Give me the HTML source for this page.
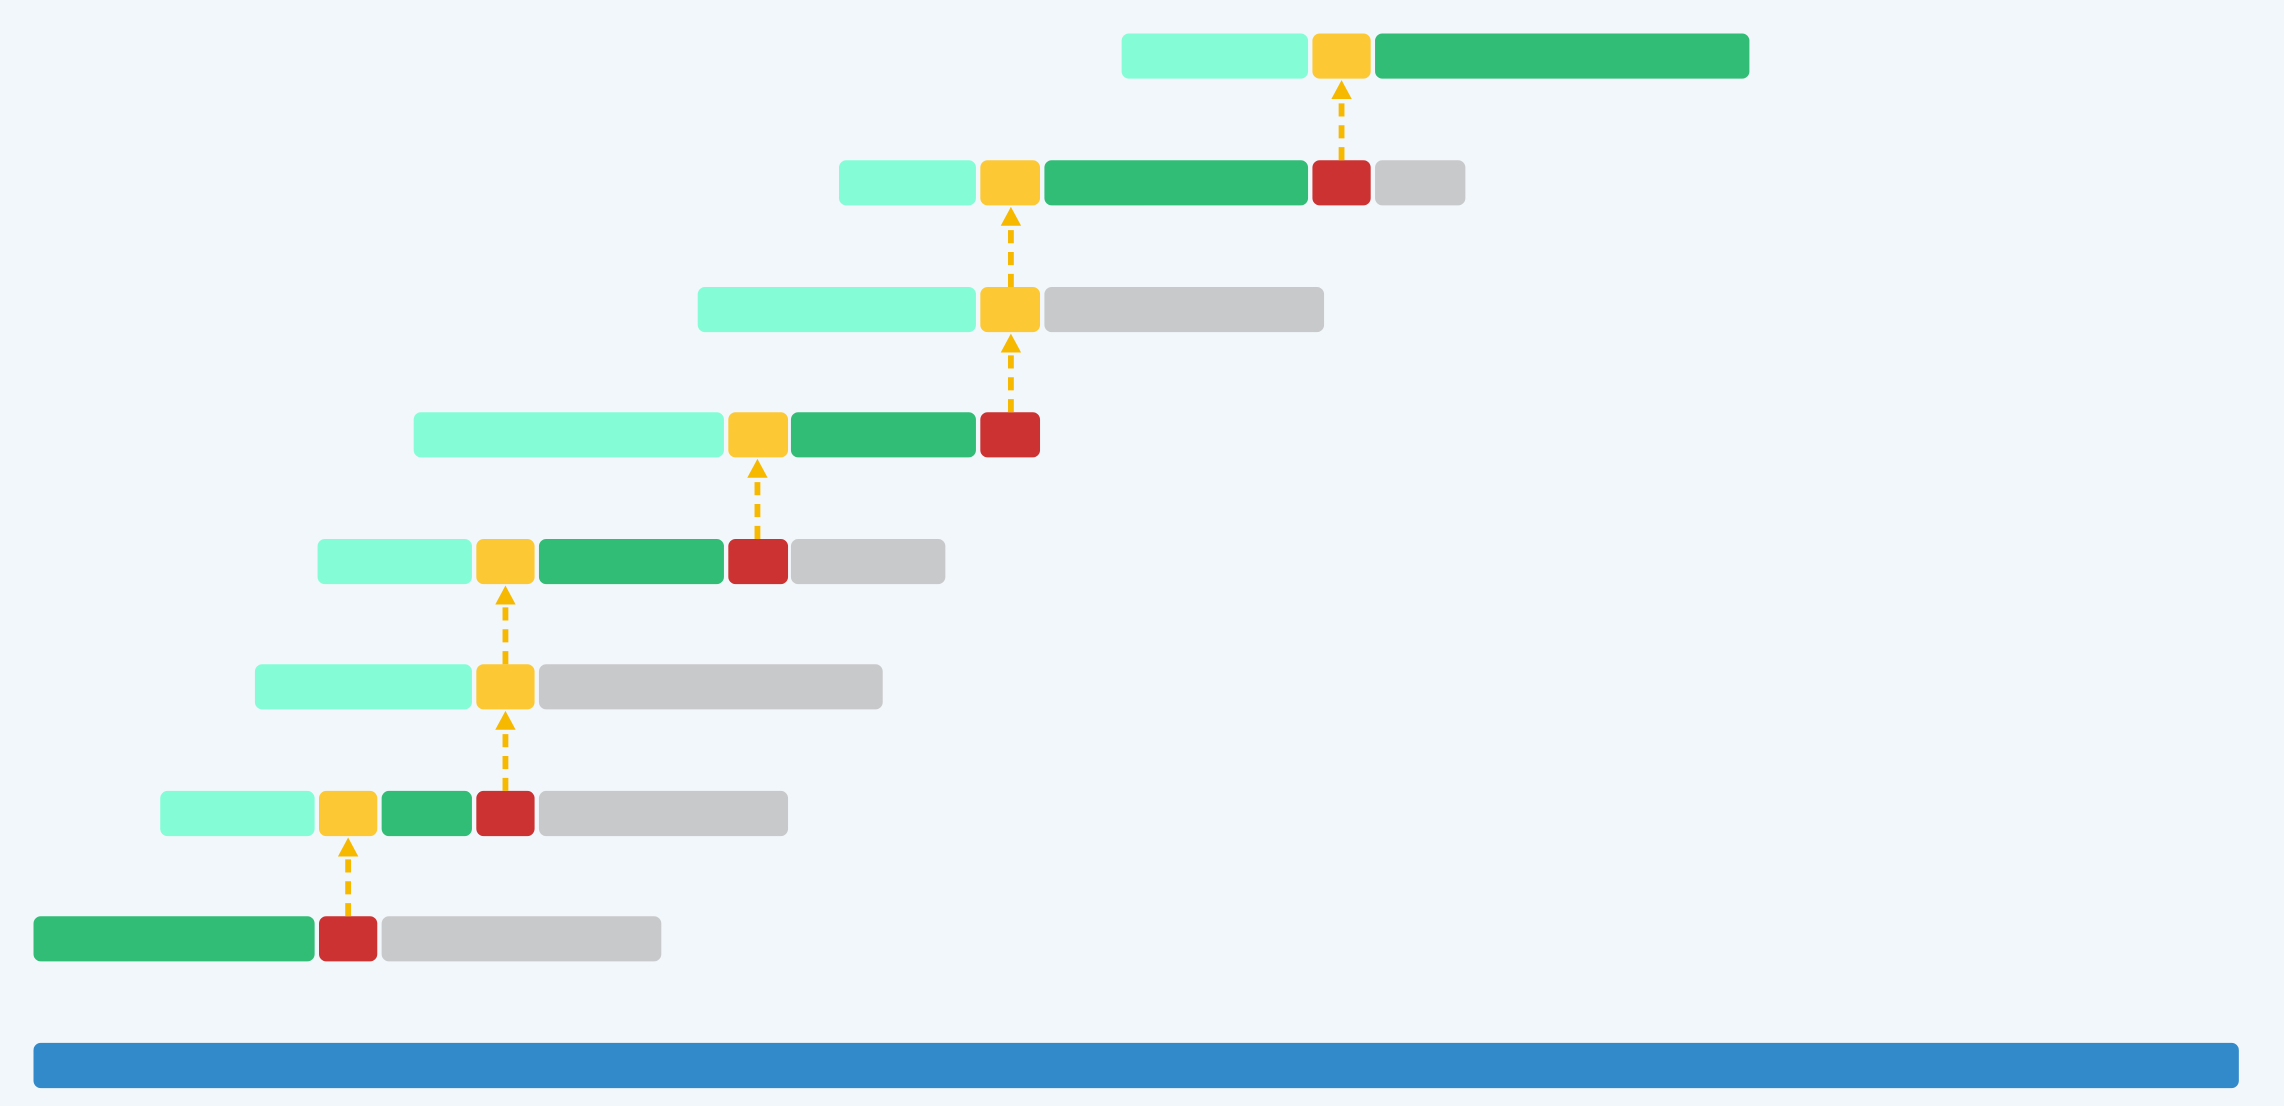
<!DOCTYPE html>
<html><head><style>html,body{margin:0;padding:0;background:#f2f7fb;}svg{display:block}</style></head>
<body>
<svg width="2284" height="1106" viewBox="0 0 1568 759.3" preserveAspectRatio="none" xmlns="http://www.w3.org/2000/svg">
<rect x="0" y="0" width="1568" height="760" fill="#f2f7fb"/>
<defs>
<style>
.c{fill:#84fdd6}.y{fill:#fcc934}.g{fill:#31bd76}.r{fill:#cc3232}.s{fill:#c8c9ca}.b{fill:#338acb}
.a{stroke:#f7b900;stroke-width:4;stroke-dasharray:9,6;fill:none}
.h{fill:#f7b900}
</style>
</defs>
<g>
<rect class="c" x="770" y="23" width="128" height="31" rx="5"/>
<rect class="y" x="901" y="23" width="40" height="31" rx="5"/>
<rect class="g" x="944" y="23" width="257" height="31" rx="5"/>
<rect class="c" x="576" y="110" width="94" height="31" rx="5"/>
<rect class="y" x="673" y="110" width="41" height="31" rx="5"/>
<rect class="g" x="717" y="110" width="181" height="31" rx="5"/>
<rect class="r" x="901" y="110" width="40" height="31" rx="5"/>
<rect class="s" x="944" y="110" width="62" height="31" rx="5"/>
<rect class="c" x="479" y="197" width="191" height="31" rx="5"/>
<rect class="y" x="673" y="197" width="41" height="31" rx="5"/>
<rect class="s" x="717" y="197" width="192" height="31" rx="5"/>
<rect class="c" x="284" y="283" width="213" height="31" rx="5"/>
<rect class="y" x="500" y="283" width="41" height="31" rx="5"/>
<rect class="g" x="543" y="283" width="127" height="31" rx="5"/>
<rect class="r" x="673" y="283" width="41" height="31" rx="5"/>
<rect class="c" x="218" y="370" width="106" height="31" rx="5"/>
<rect class="y" x="327" y="370" width="40" height="31" rx="5"/>
<rect class="g" x="370" y="370" width="127" height="31" rx="5"/>
<rect class="r" x="500" y="370" width="41" height="31" rx="5"/>
<rect class="s" x="543" y="370" width="106" height="31" rx="5"/>
<rect class="c" x="175" y="456" width="149" height="31" rx="5"/>
<rect class="y" x="327" y="456" width="40" height="31" rx="5"/>
<rect class="s" x="370" y="456" width="236" height="31" rx="5"/>
<rect class="c" x="110" y="543" width="106" height="31" rx="5"/>
<rect class="y" x="219" y="543" width="40" height="31" rx="5"/>
<rect class="g" x="262" y="543" width="62" height="31" rx="5"/>
<rect class="r" x="327" y="543" width="40" height="31" rx="5"/>
<rect class="s" x="370" y="543" width="171" height="31" rx="5"/>
<rect class="g" x="23" y="629" width="193" height="31" rx="5"/>
<rect class="r" x="219" y="629" width="40" height="31" rx="5"/>
<rect class="s" x="262" y="629" width="192" height="31" rx="5"/>
<rect class="b" x="23" y="716" width="1514" height="31" rx="5"/>
</g>
<g>
<line class="a" x1="921" y1="110" x2="921" y2="66"/><polygon class="h" points="921,55 914,68 928,68"/>
<line class="a" x1="694" y1="197" x2="694" y2="153"/><polygon class="h" points="694,142 687,155 701,155"/>
<line class="a" x1="694" y1="283" x2="694" y2="240"/><polygon class="h" points="694,229 687,242 701,242"/>
<line class="a" x1="520" y1="370" x2="520" y2="326"/><polygon class="h" points="520,315 513,328 527,328"/>
<line class="a" x1="347" y1="456" x2="347" y2="413"/><polygon class="h" points="347,402 340,415 354,415"/>
<line class="a" x1="347" y1="543" x2="347" y2="499"/><polygon class="h" points="347,488 340,501 354,501"/>
<line class="a" x1="239" y1="629" x2="239" y2="586"/><polygon class="h" points="239,575 232,588 246,588"/>
</g>
</svg>
</body></html>
